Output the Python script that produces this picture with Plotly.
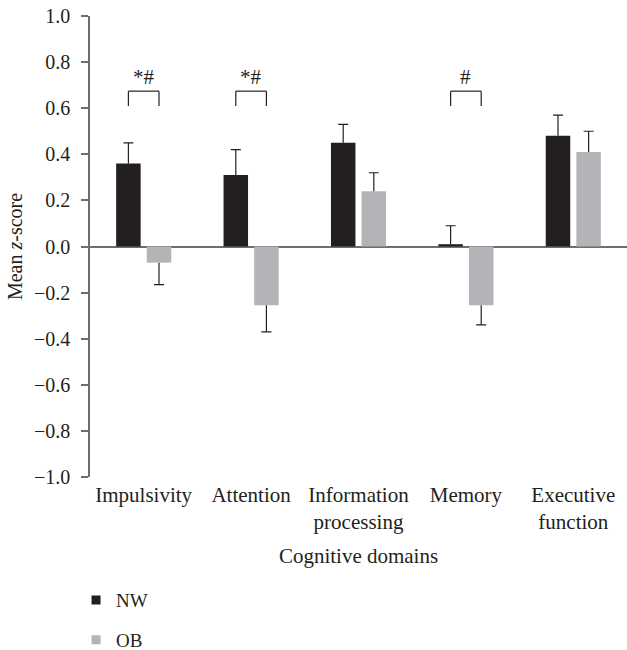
import plotly.graph_objects as go

categories = ["Impulsivity", "Attention", "Information<br>processing", "Memory", "Executive<br>function"]
nw_values = [0.36, 0.31, 0.45, 0.01, 0.48]
nw_errors = [0.09, 0.11, 0.08, 0.08, 0.09]
ob_values = [-0.07, -0.255, 0.24, -0.255, 0.41]
ob_errors = [0.095, 0.115, 0.08, 0.085, 0.09]

sig_index = [0, 1, 3]
sig_labels = ["*#", "*#", "#"]
bracket_top = 0.674
bracket_bottom = 0.61
label_y = 0.737

NW_COLOR = "#231f20"
OB_COLOR = "#b3b4b7"
AXIS_COLOR = "#6d6e71"
TEXT_COLOR = "#231f20"
FONT = "Liberation Serif"

BARGAP = 0.43
BARGROUPGAP = 0.2


def whisker(vals, errs):
    plus = [e if v >= 0 else 0 for v, e in zip(vals, errs)]
    minus = [e if v < 0 else 0 for v, e in zip(vals, errs)]
    return dict(type="data", symmetric=False, array=plus, arrayminus=minus,
                color=NW_COLOR, thickness=1.2, width=0)


def ends(vals, errs):
    return [v + e if v >= 0 else v - e for v, e in zip(vals, errs)]


cap = dict(type="constant", value=1e-9, color=NW_COLOR, thickness=1.2, width=5)
clear = "rgba(0,0,0,0)"
noline = dict(width=0)

fig = go.Figure()
fig.add_trace(go.Bar(x=categories, y=nw_values, marker=dict(color=NW_COLOR, line=noline),
                     offsetgroup="NW", error_y=whisker(nw_values, nw_errors), showlegend=False))
fig.add_trace(go.Bar(x=categories, y=ob_values, marker=dict(color=OB_COLOR, line=noline),
                     offsetgroup="OB", error_y=whisker(ob_values, ob_errors), showlegend=False))
# caps at the outer end of each error bar
fig.add_trace(go.Bar(x=categories, y=ends(nw_values, nw_errors), marker=dict(color=clear, line=noline),
                     offsetgroup="NW", error_y=cap, showlegend=False, hoverinfo="skip"))
fig.add_trace(go.Bar(x=categories, y=ends(ob_values, ob_errors), marker=dict(color=clear, line=noline),
                     offsetgroup="OB", error_y=cap, showlegend=False, hoverinfo="skip"))
# legend entries
fig.add_trace(go.Scatter(x=[None], y=[None], mode="markers", name="NW", legendgroup="a",
                         marker=dict(symbol="square", size=9, color=NW_COLOR)))
fig.add_trace(go.Scatter(x=[None], y=[None], mode="markers", name="OB", legendgroup="b",
                         marker=dict(symbol="square", size=9, color=OB_COLOR)))

slot = (1 - BARGAP) / 2
for idx, lab in zip(sig_index, sig_labels):
    x1 = idx - slot / 2
    x2 = idx + slot / 2
    line = dict(color=NW_COLOR, width=1.2)
    fig.add_shape(type="line", xref="x", yref="y", x0=x1, x1=x1, y0=bracket_bottom, y1=bracket_top, line=line)
    fig.add_shape(type="line", xref="x", yref="y", x0=x1, x1=x2, y0=bracket_top, y1=bracket_top, line=line)
    fig.add_shape(type="line", xref="x", yref="y", x0=x2, x1=x2, y0=bracket_bottom, y1=bracket_top, line=line)
    fig.add_annotation(x=idx, y=label_y, xref="x", yref="y", text=lab, showarrow=False,
                       font=dict(family=FONT, size=21, color=TEXT_COLOR))

fig.update_layout(
    width=627, height=650,
    margin=dict(l=90, r=0, t=16, b=173, autoexpand=False),
    paper_bgcolor="white", plot_bgcolor="white",
    barmode="group", bargap=BARGAP, bargroupgap=BARGROUPGAP,
    font=dict(family=FONT, size=21, color=TEXT_COLOR),
    legend=dict(x=-0.026, xanchor="left", y=-0.226, yanchor="top",
                traceorder="grouped", tracegroupgap=12,
                font=dict(family=FONT, size=19, color=TEXT_COLOR)),
    xaxis=dict(showline=False, showgrid=False, zeroline=False, ticks="", automargin=False,
               ticklabelstandoff=3, tickfont=dict(family=FONT, size=21),
               title=dict(text="Cognitive domains", standoff=15,
                          font=dict(family=FONT, size=21))),
    yaxis=dict(range=[-1, 1], dtick=0.2, tick0=0, tickformat=".1f", automargin=False,
               showline=True, linecolor=AXIS_COLOR, linewidth=1.5,
               ticks="outside", ticklen=7, tickcolor=AXIS_COLOR, tickwidth=1.5,
               ticklabelstandoff=7, ticklabeloverflow="allow", tickfont=dict(family=FONT, size=20),
               showgrid=False, zeroline=True, zerolinecolor=AXIS_COLOR, zerolinewidth=1.5,
               title=dict(text="Mean <i>z</i>-score", standoff=6, font=dict(family=FONT, size=20))),
)

fig.write_html("out.html", config={"displayModeBar": False},
               post_script="document.body.style.margin='0';")
